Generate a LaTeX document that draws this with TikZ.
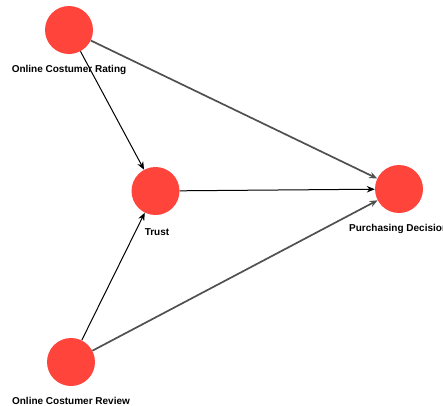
\documentclass[tikz,border=0pt]{standalone}
\usepackage{fontspec}
\setmainfont{Liberation Sans}
\usetikzlibrary{arrows.meta}
\definecolor{nodered}{RGB}{255,68,60}
\definecolor{edgegray}{RGB}{80,80,80}
\tikzset{
  var/.style={circle, fill=nodered, minimum size=48pt, inner sep=0pt},
  lbl/.style={font=\fontsize{10}{12}\selectfont\bfseries, text=black, inner sep=0pt},
  blk/.style={draw=black, line width=1pt, -{Stealth[length=8pt,width=6.5pt]}},
  gry/.style={draw=edgegray, line width=1.7pt, -{Stealth[length=8pt,width=6.5pt]}}
}
\begin{document}
\begin{tikzpicture}[x=1pt,y=-1pt]
\useasboundingbox (0,0) rectangle (443,405);
\node[var] (rating) at (69,30) {};
\node[var] (trust) at (155.5,191) {};
\node[var] (purch) at (399,189) {};
\node[var] (review) at (71,362) {};
\node[lbl] (lrating) at (69,70) {Online Costumer Rating};
\node[lbl] (ltrust) at (157,232) {Trust};
\node[lbl, anchor=west] (lpurch) at (349,229) {Purchasing Decision};
\node[lbl] (lreview) at (71,401) {Online Costumer Review};
\draw[gry] (rating) -- (purch);
\draw[gry] (review) -- (purch);
\draw[blk] (rating) -- (trust);
\draw[blk] (review) -- (trust);
\draw[blk] (trust) -- (purch);
\end{tikzpicture}
\end{document}
